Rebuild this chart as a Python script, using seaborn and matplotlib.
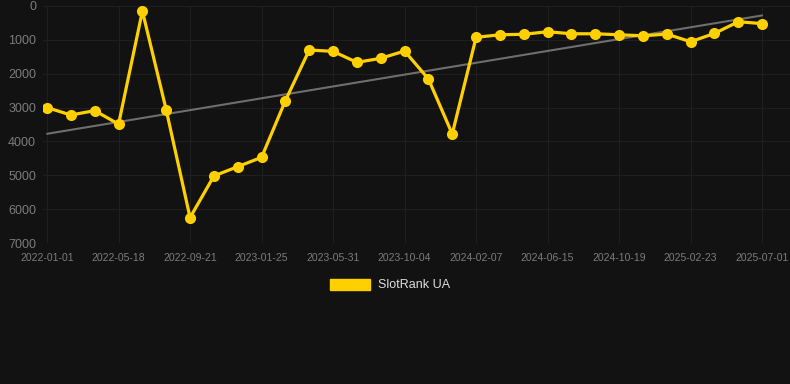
import numpy as np
import pandas as pd
import matplotlib
matplotlib.use("Agg")
import matplotlib.pyplot as plt
import seaborn as sns
from matplotlib.patches import Patch

tick_labels = ["2022-01-01", "2022-05-18", "2022-09-21", "2023-01-25", "2023-05-31",
               "2023-10-04", "2024-02-07", "2024-06-15", "2024-10-19", "2025-02-23",
               "2025-07-01"]
rank = [3000, 3220, 3090, 3490, 150, 3070, 6250, 5020, 4745, 4470,
        2795, 1300, 1340, 1665, 1545, 1330, 2155, 3780, 925, 850,
        835, 760, 820, 820, 850, 880, 830, 1055, 810, 465, 520]
series_name = "SlotRank UA"

BG = "#121212"
GOLD = "#FFD000"

sns.set_theme(style="dark")
plt.rcParams['font.family'] = ['Liberation Sans', 'DejaVu Sans']

idx = np.arange(len(rank))
df = pd.DataFrame({"i": idx, "rank": rank})
coef = np.polyfit(idx, rank, 1)
df["trend"] = np.polyval(coef, idx)

fig = plt.figure(figsize=(7.9, 3.84), dpi=100, facecolor=BG)
ax = fig.add_axes([43 / 790, (384 - 243) / 384, 1 - 43 / 790, (243 - 6) / 384])
ax.set_facecolor(BG)

sns.lineplot(data=df, x="i", y="trend", ax=ax, color="#6e6e6e", linewidth=1.5, zorder=2)
sns.lineplot(data=df, x="i", y="rank", ax=ax, color=GOLD, linewidth=2.3,
             marker="o", markersize=8, markeredgewidth=0, zorder=3)

ax.set_xlim(-0.17, 31.17)
ax.set_ylim(7000, 0)
ax.set_yticks(range(0, 7001, 1000))
ax.set_yticklabels([str(v) for v in range(0, 7001, 1000)])
ax.set_xticks(idx[::3])
ax.set_xticklabels(tick_labels)
ax.tick_params(axis="x", colors="#7c7c7c", labelsize=7.5, length=0, pad=7)
ax.tick_params(axis="y", colors="#7c7c7c", labelsize=9, length=0, pad=5)
ax.grid(True, color="#1f1f1f", linewidth=0.8)
for s in ax.spines.values():
    s.set_visible(False)
ax.set_xlabel("")
ax.set_ylabel("")

handles = [Patch(facecolor=GOLD, edgecolor=GOLD, label=series_name)]
fig.legend(handles=handles, loc="center", bbox_to_anchor=(390 / 790, 1 - 285 / 384),
           frameon=False, fontsize=9, labelcolor="#dddddd",
           handlelength=3.2, handleheight=1.0, handletextpad=0.6)

fig.savefig("out.png", dpi=100, facecolor=BG)
